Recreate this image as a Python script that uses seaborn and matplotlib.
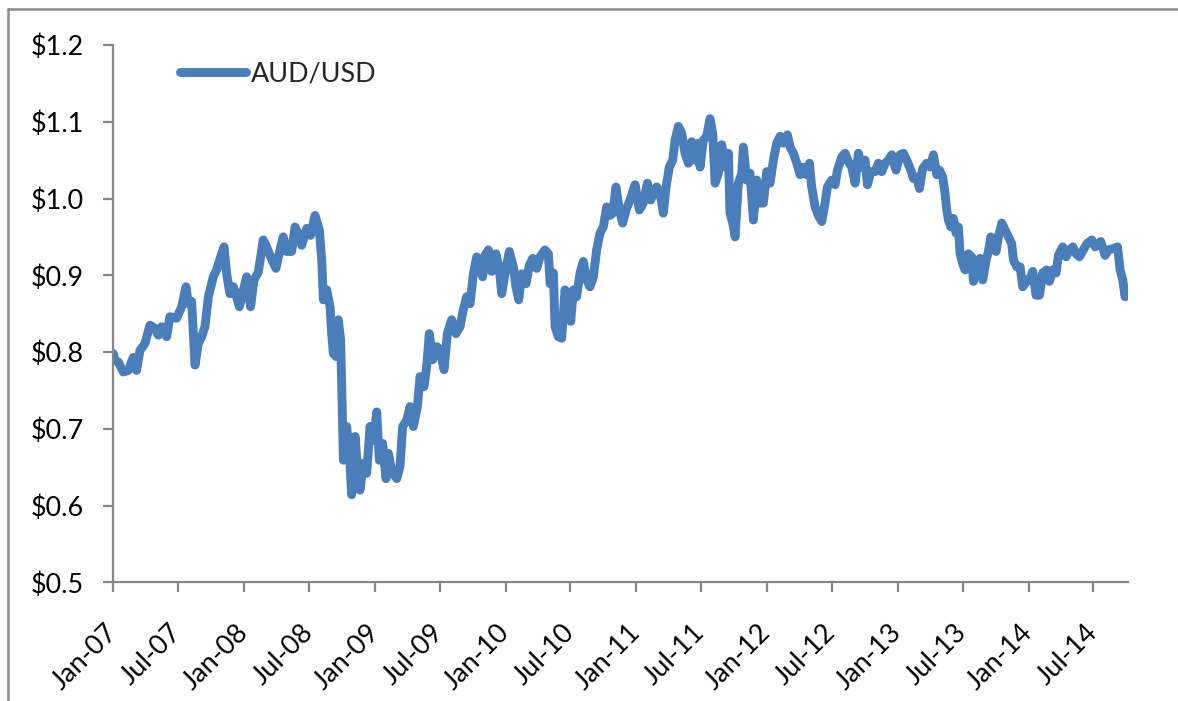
import numpy as np
import pandas as pd
import matplotlib
matplotlib.use("Agg")
import matplotlib.pyplot as plt
import matplotlib.dates as mdates
from matplotlib.lines import Line2D
import seaborn as sns

# ---- data (decimal year, AUD/USD rate) ----
years = [
    2007.000, 2007.013, 2007.038, 2007.076, 2007.115, 2007.153, 2007.178, 2007.204, 2007.242, 2007.280,
    2007.319, 2007.344, 2007.370, 2007.408, 2007.433, 2007.484, 2007.523, 2007.556, 2007.574, 2007.599,
    2007.625, 2007.650, 2007.676, 2007.701, 2007.727, 2007.765, 2007.790, 2007.821, 2007.847, 2007.867,
    2007.892, 2007.918, 2007.943, 2007.964, 2007.994, 2008.020, 2008.050, 2008.076, 2008.109, 2008.147,
    2008.173, 2008.203, 2008.244, 2008.275, 2008.300, 2008.326, 2008.364, 2008.390, 2008.415, 2008.441,
    2008.479, 2008.509, 2008.543, 2008.576,
    2008.594, 2008.607, 2008.632, 2008.658, 2008.670, 2008.683, 2008.704, 2008.721, 2008.739, 2008.760,
    2008.785, 2008.806, 2008.823, 2008.849, 2008.867, 2008.887, 2008.913, 2008.938, 2008.964, 2008.989,
    2009.015, 2009.035, 2009.060, 2009.086, 2009.104, 2009.129, 2009.168, 2009.193, 2009.213, 2009.244,
    2009.270, 2009.295, 2009.326, 2009.346, 2009.377, 2009.397, 2009.417, 2009.443, 2009.474, 2009.499,
    2009.530, 2009.555, 2009.588, 2009.621, 2009.652, 2009.677, 2009.703, 2009.729, 2009.754, 2009.780,
    2009.805, 2009.825, 2009.843, 2009.869, 2009.894, 2009.927, 2009.953, 2009.971, 2009.996, 2010.029,
    2010.060, 2010.080, 2010.101, 2010.124, 2010.157, 2010.182, 2010.208, 2010.239,
    2010.264, 2010.302, 2010.328, 2010.341, 2010.366, 2010.379, 2010.404, 2010.430, 2010.455, 2010.481,
    2010.499, 2010.519, 2010.544, 2010.570, 2010.595, 2010.621, 2010.646, 2010.672, 2010.697, 2010.723,
    2010.748, 2010.774, 2010.799, 2010.820, 2010.845, 2010.871, 2010.896, 2010.922, 2010.952, 2010.991,
    2011.024, 2011.054, 2011.085, 2011.111, 2011.131, 2011.156, 2011.182, 2011.207, 2011.228, 2011.253,
    2011.279, 2011.297, 2011.322, 2011.348, 2011.373, 2011.399, 2011.424, 2011.450, 2011.475, 2011.488,
    2011.513, 2011.539, 2011.564, 2011.585, 2011.603, 2011.628, 2011.654, 2011.679, 2011.705, 2011.717,
    2011.738, 2011.756, 2011.781, 2011.807, 2011.819, 2011.845, 2011.870, 2011.896, 2011.921, 2011.947,
    2011.972, 2011.998, 2012.023, 2012.049, 2012.074, 2012.100,
    2012.126, 2012.156, 2012.177, 2012.202, 2012.228, 2012.253, 2012.279, 2012.304, 2012.325, 2012.342,
    2012.368, 2012.393, 2012.419, 2012.444, 2012.462, 2012.495, 2012.521, 2012.539, 2012.572, 2012.597,
    2012.623, 2012.648, 2012.674, 2012.699, 2012.725, 2012.750, 2012.768, 2012.794, 2012.827, 2012.852,
    2012.878, 2012.903, 2012.929, 2012.954, 2012.987, 2013.018, 2013.044, 2013.069, 2013.100, 2013.120,
    2013.146, 2013.166, 2013.191, 2013.222, 2013.248, 2013.273, 2013.299, 2013.319, 2013.344, 2013.362,
    2013.375, 2013.388, 2013.406, 2013.426, 2013.446, 2013.464, 2013.477, 2013.497, 2013.515, 2013.541,
    2013.566, 2013.579, 2013.604, 2013.630, 2013.650, 2013.676, 2013.694, 2013.712, 2013.732, 2013.752,
    2013.770, 2013.796, 2013.821, 2013.847, 2013.872, 2013.885, 2013.910, 2013.936, 2013.956, 2013.987,
    2014.018, 2014.033, 2014.058, 2014.084, 2014.109, 2014.140, 2014.160, 2014.186, 2014.211, 2014.229,
    2014.262, 2014.288, 2014.313, 2014.339, 2014.364, 2014.390, 2014.420, 2014.446, 2014.484, 2014.510,
    2014.553, 2014.586, 2014.612, 2014.650, 2014.681, 2014.701, 2014.721, 2014.739, 2014.745,
]
aud_usd = [
    0.798, 0.789, 0.787, 0.774, 0.776, 0.793, 0.776, 0.802, 0.811, 0.835,
    0.831, 0.822, 0.833, 0.820, 0.846, 0.844, 0.859, 0.885, 0.863, 0.866,
    0.783, 0.811, 0.820, 0.833, 0.872, 0.898, 0.907, 0.924, 0.937, 0.902,
    0.876, 0.885, 0.872, 0.859, 0.880, 0.898, 0.859, 0.894, 0.904, 0.946,
    0.937, 0.924, 0.909, 0.933, 0.950, 0.931, 0.931, 0.963, 0.954, 0.939,
    0.961, 0.952, 0.978, 0.959,
    0.920, 0.868, 0.881, 0.859, 0.824, 0.798, 0.794, 0.842, 0.816, 0.659,
    0.703, 0.668, 0.614, 0.690, 0.651, 0.620, 0.655, 0.642, 0.703, 0.685,
    0.722, 0.659, 0.681, 0.635, 0.668, 0.646, 0.635, 0.651, 0.703, 0.711,
    0.729, 0.703, 0.729, 0.768, 0.755, 0.781, 0.824, 0.790, 0.807, 0.803,
    0.777, 0.824, 0.842, 0.824, 0.833, 0.855, 0.872, 0.863, 0.902, 0.924,
    0.907, 0.898, 0.926, 0.933, 0.905, 0.928, 0.907, 0.876, 0.902, 0.931,
    0.911, 0.885, 0.868, 0.902, 0.889, 0.913, 0.922, 0.909,
    0.924, 0.933, 0.928, 0.889, 0.903, 0.833, 0.820, 0.818, 0.881, 0.859,
    0.840, 0.881, 0.872, 0.903, 0.918, 0.894, 0.885, 0.898, 0.933, 0.955,
    0.963, 0.989, 0.978, 0.981, 1.015, 0.985, 0.968, 0.985, 0.998, 1.018,
    0.985, 0.994, 1.020, 0.998, 1.007, 1.015, 1.007, 0.981, 1.015, 1.041,
    1.050, 1.076, 1.094, 1.085, 1.059, 1.046, 1.074, 1.050, 1.072, 1.041,
    1.076, 1.081, 1.104, 1.085, 1.020, 1.033, 1.070, 1.041, 1.059, 0.981,
    0.968, 0.950, 1.020, 1.033, 1.067, 1.024, 1.033, 0.972, 1.024, 0.994,
    0.994, 1.035, 1.020, 1.050, 1.072, 1.081,
    1.072, 1.083, 1.067, 1.059, 1.046, 1.031, 1.041, 1.031, 1.046, 1.015,
    0.989, 0.978, 0.970, 0.994, 1.015, 1.024, 1.018, 1.037, 1.054, 1.059,
    1.048, 1.041, 1.020, 1.059, 1.041, 1.050, 1.018, 1.035, 1.035, 1.046,
    1.035, 1.046, 1.050, 1.057, 1.037, 1.057, 1.059, 1.050, 1.037, 1.026,
    1.028, 1.013, 1.039, 1.046, 1.041, 1.057, 1.031, 1.037, 1.028, 1.007,
    0.985, 0.972, 0.963, 0.974, 0.955, 0.963, 0.928, 0.915, 0.907, 0.928,
    0.924, 0.892, 0.911, 0.922, 0.894, 0.920, 0.931, 0.950, 0.941, 0.931,
    0.950, 0.968, 0.959, 0.950, 0.941, 0.920, 0.911, 0.911, 0.885, 0.892,
    0.898, 0.905, 0.874, 0.874, 0.903, 0.907, 0.892, 0.907, 0.903, 0.926,
    0.937, 0.924, 0.933, 0.937, 0.928, 0.924, 0.933, 0.941, 0.946, 0.937,
    0.944, 0.926, 0.933, 0.935, 0.937, 0.907, 0.894, 0.872, 0.877,
]
series_name = "AUD/USD"
tick_dates = pd.date_range("2007-01-01", "2014-07-01", freq="6MS")
y_ticks = [0.5, 0.6, 0.7, 0.8, 0.9, 1.0, 1.1, 1.2]

# ---- build table ----
yr = np.array(years)
dates = pd.Timestamp("2007-01-01") + pd.to_timedelta((yr - 2007.0) * 365.25, unit="D")
df = pd.DataFrame({"Date": dates, series_name: aud_usd})

# ---- style ----
sns.set_theme(style="white")
plt.rcParams["font.family"] = ["Lato", "DejaVu Sans"]

LINE_C = "#4A7EBB"
AXIS_C = "#868686"
FS = 19.4
LW = 6.4

fig = plt.figure(figsize=(11.78, 7.01), dpi=100)
ax = fig.add_axes([113.3 / 1178, 1 - 582.3 / 701, (1127.7 - 113.3) / 1178, (582.3 - 45) / 701])

sns.lineplot(data=df, x="Date", y=series_name, ax=ax, color=LINE_C, linewidth=LW,
             label=series_name, solid_capstyle="round", solid_joinstyle="round")

ax.set_xlim(pd.Timestamp("2007-01-01"), pd.Timestamp("2014-10-05"))
ax.set_ylim(0.5, 1.2)
ax.set_xticks(tick_dates)
ax.xaxis.set_major_formatter(mdates.DateFormatter("%b-%y"))
ax.set_yticks(y_ticks)
ax.set_yticklabels([f"${v:.1f}" for v in y_ticks])
ax.set_xlabel("")
ax.set_ylabel("")

for s in ["top", "right"]:
    ax.spines[s].set_visible(False)
for s in ["left", "bottom"]:
    ax.spines[s].set_color(AXIS_C)
    ax.spines[s].set_linewidth(1.6)

ax.tick_params(axis="both", direction="out", length=7.2, width=1.6, color=AXIS_C,
               labelsize=FS, labelcolor="black", left=True, bottom=True)
ax.tick_params(axis="y", pad=14)
ax.tick_params(axis="x", pad=26)
ax.grid(False)

for lab in ax.get_xticklabels():
    lab.set_rotation(45)
    lab.set_ha("right")
    lab.set_va("center")
    lab.set_rotation_mode("anchor")

leg = ax.legend(loc="center left", bbox_to_anchor=(180 / 1178, 1 - 74 / 701),
                bbox_transform=fig.transFigure, frameon=False, fontsize=FS,
                handlelength=2.45, handletextpad=0.2, borderpad=0, borderaxespad=0)
for h in leg.get_lines():
    h.set_linewidth(LW)
    h.set_solid_capstyle("round")

# outer chart-area border (top and left edges visible in the reference)
fig.add_artist(Line2D([8 / 1178, 1.0], [1 - 9 / 701, 1 - 9 / 701], transform=fig.transFigure,
                      color="#8C8C8C", linewidth=1.8))
fig.add_artist(Line2D([8 / 1178, 8 / 1178], [0.0, 1 - 9 / 701], transform=fig.transFigure,
                      color="#8C8C8C", linewidth=1.8))

fig.savefig("out.png", dpi=100, facecolor="white")
